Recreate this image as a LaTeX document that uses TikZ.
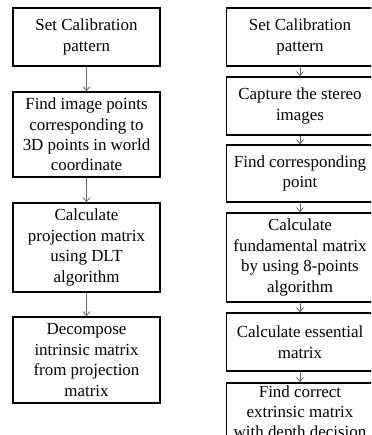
\documentclass[tikz,border=0pt]{standalone}
\usepackage{fontspec}
\setmainfont{Liberation Serif}
\usetikzlibrary{arrows.meta}
\begin{document}
\begin{tikzpicture}[x=1bp,y=-1bp,
  stepbox/.style={draw=black, line width=1.7bp, minimum width=147bp,
    align=center, inner sep=0pt, font=\fontsize{17}{20.5}\selectfont},
  flow/.style={draw=black!60, line width=0.8bp,
    -{Straight Barb[length=4bp,width=7bp,line width=0.8bp]}}]
  \useasboundingbox (0,0) rectangle (371,435);
  \clip (0,0) rectangle (371,435);
  \fill[white] (0,0) rectangle (371,435);

  % left column: single-camera calibration
  \node[stepbox, minimum height=58bp] (l1) at (86.5,37) {Set Calibration\\pattern};
  \node[stepbox, minimum height=85bp] (l2) at (86.5,134.5) {Find image points\\corresponding to\\3D points in world\\coordinate};
  \node[stepbox, minimum height=89bp] (l3) at (86.5,247.5) {Calculate\\projection matrix\\using DLT\\algorithm};
  \node[stepbox, minimum height=86bp] (l4) at (86.5,360) {Decompose\\intrinsic matrix\\from projection\\matrix};

  % right column: stereo calibration
  \node[stepbox, minimum height=58bp] (r1) at (300,37) {Set Calibration\\pattern};
  \node[stepbox, minimum height=58bp] (r2) at (300,106) {Capture the stereo\\images};
  \node[stepbox, minimum height=57bp] (r3) at (300,173.5) {Find corresponding\\point};
  \node[stepbox, minimum height=89bp] (r4) at (300,257.5) {Calculate\\fundamental matrix\\by using 8-points\\algorithm};
  \node[stepbox, minimum height=58bp] (r5) at (300,342) {Calculate essential\\matrix};
  \node[stepbox, anchor=north, inner ysep=2.5bp, minimum height=90bp, text depth=60bp] (r6) at (300,382) {Find correct\\extrinsic matrix\\with depth decision};

  \draw[flow] (l1) -- (l2);
  \draw[flow] (l2) -- (l3);
  \draw[flow] (l3) -- (l4);
  \draw[flow] (r1) -- (r2);
  \draw[flow] (r2) -- (r3);
  \draw[flow] (r3) -- (r4);
  \draw[flow] (r4) -- (r5);
  \draw[flow] (r5) -- (r6);
\end{tikzpicture}
\end{document}
